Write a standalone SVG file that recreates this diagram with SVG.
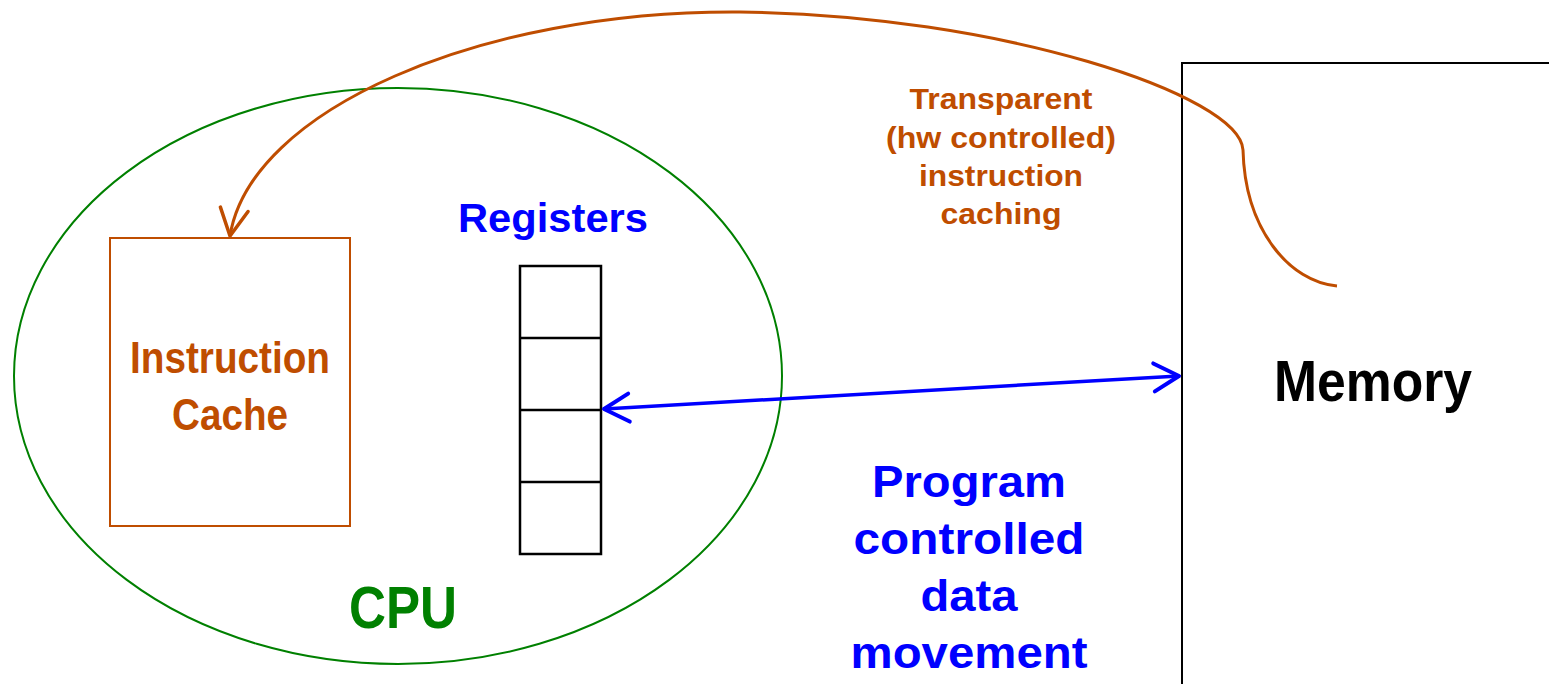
<svg xmlns="http://www.w3.org/2000/svg" width="1549" height="684" viewBox="0 0 1549 684">
<style>
.t{font-family:"Liberation Sans",Arial,sans-serif;font-weight:bold;text-anchor:middle}
.brown{fill:#BF4D00}
.blue{fill:#0000FF}
.green{fill:#008000}
.black{fill:#000}
</style>
<defs>
<marker id="vb" viewBox="0 0 34 34" refX="31" refY="17" markerWidth="34" markerHeight="34" markerUnits="userSpaceOnUse" orient="auto-start-reverse">
<path d="M6,3 L31,17 L6,31" fill="none" stroke="#0000FF" stroke-width="4" stroke-linecap="round" stroke-linejoin="round"/>
</marker>
<marker id="vo" viewBox="0 0 34 34" refX="31" refY="17" markerWidth="34" markerHeight="34" markerUnits="userSpaceOnUse" orient="auto">
<path d="M4,3 L31,17 L4,31" fill="none" stroke="#BF4D00" stroke-width="3.5" stroke-linecap="round" stroke-linejoin="round"/>
</marker>
</defs>
<rect width="1549" height="684" fill="#fff"/>
<g id="cpu">
<ellipse cx="398" cy="376" rx="384" ry="288" fill="none" stroke="#008000" stroke-width="2"/>
<text class="t green" x="403" y="628" font-size="60" textLength="108" lengthAdjust="spacingAndGlyphs">CPU</text>
</g>
<g id="icache">
<rect x="110" y="238" width="240" height="288" fill="none" stroke="#BF4D00" stroke-width="2"/>
<text class="t brown" x="230" y="373" font-size="44" textLength="200" lengthAdjust="spacingAndGlyphs">Instruction</text>
<text class="t brown" x="230" y="430" font-size="44" textLength="116" lengthAdjust="spacingAndGlyphs">Cache</text>
</g>
<g id="registers">
<text class="t blue" x="553" y="232" font-size="40" textLength="190" lengthAdjust="spacingAndGlyphs">Registers</text>
<rect x="520" y="266" width="81" height="288" fill="none" stroke="#000" stroke-width="2.5"/>
<line x1="520" y1="338" x2="601" y2="338" stroke="#000" stroke-width="2.5"/>
<line x1="520" y1="410" x2="601" y2="410" stroke="#000" stroke-width="2.5"/>
<line x1="520" y1="482" x2="601" y2="482" stroke="#000" stroke-width="2.5"/>
</g>
<g id="memory">
<path d="M1182,684 L1182,63 L1549,63" fill="none" stroke="#000" stroke-width="2"/>
<text class="t black" x="1373" y="401" font-size="58" textLength="198" lengthAdjust="spacingAndGlyphs">Memory</text>
</g>
<g id="labels">
<text class="t brown" font-size="29" lengthAdjust="spacingAndGlyphs"><tspan x="1001" y="109" textLength="183" lengthAdjust="spacingAndGlyphs">Transparent</tspan></text>
<text class="t brown" font-size="29"><tspan x="1001" y="148" textLength="230" lengthAdjust="spacingAndGlyphs">(hw controlled)</tspan></text>
<text class="t brown" font-size="29"><tspan x="1001" y="186" textLength="164" lengthAdjust="spacingAndGlyphs">instruction</tspan></text>
<text class="t brown" font-size="29"><tspan x="1001" y="224" textLength="121" lengthAdjust="spacingAndGlyphs">caching</tspan></text>
<text class="t blue" x="969" y="497" font-size="45" textLength="194" lengthAdjust="spacingAndGlyphs">Program</text>
<text class="t blue" x="969" y="554" font-size="45" textLength="231" lengthAdjust="spacingAndGlyphs">controlled</text>
<text class="t blue" x="969" y="611" font-size="45" textLength="97" lengthAdjust="spacingAndGlyphs">data</text>
<text class="t blue" x="969" y="668" font-size="45" textLength="237" lengthAdjust="spacingAndGlyphs">movement</text>
</g>
<g id="connectors">
<line x1="604" y1="409" x2="1179" y2="376" stroke="#0000FF" stroke-width="3.5" marker-start="url(#vb)" marker-end="url(#vb)"/>
<path d="M1337,286 C1290,282 1245,230 1243,150 C1240,95 1000,15 740,12 C480,10 250,110 230,236" fill="none" stroke="#BF4D00" stroke-width="3" marker-end="url(#vo)"/>
</g>
</svg>
